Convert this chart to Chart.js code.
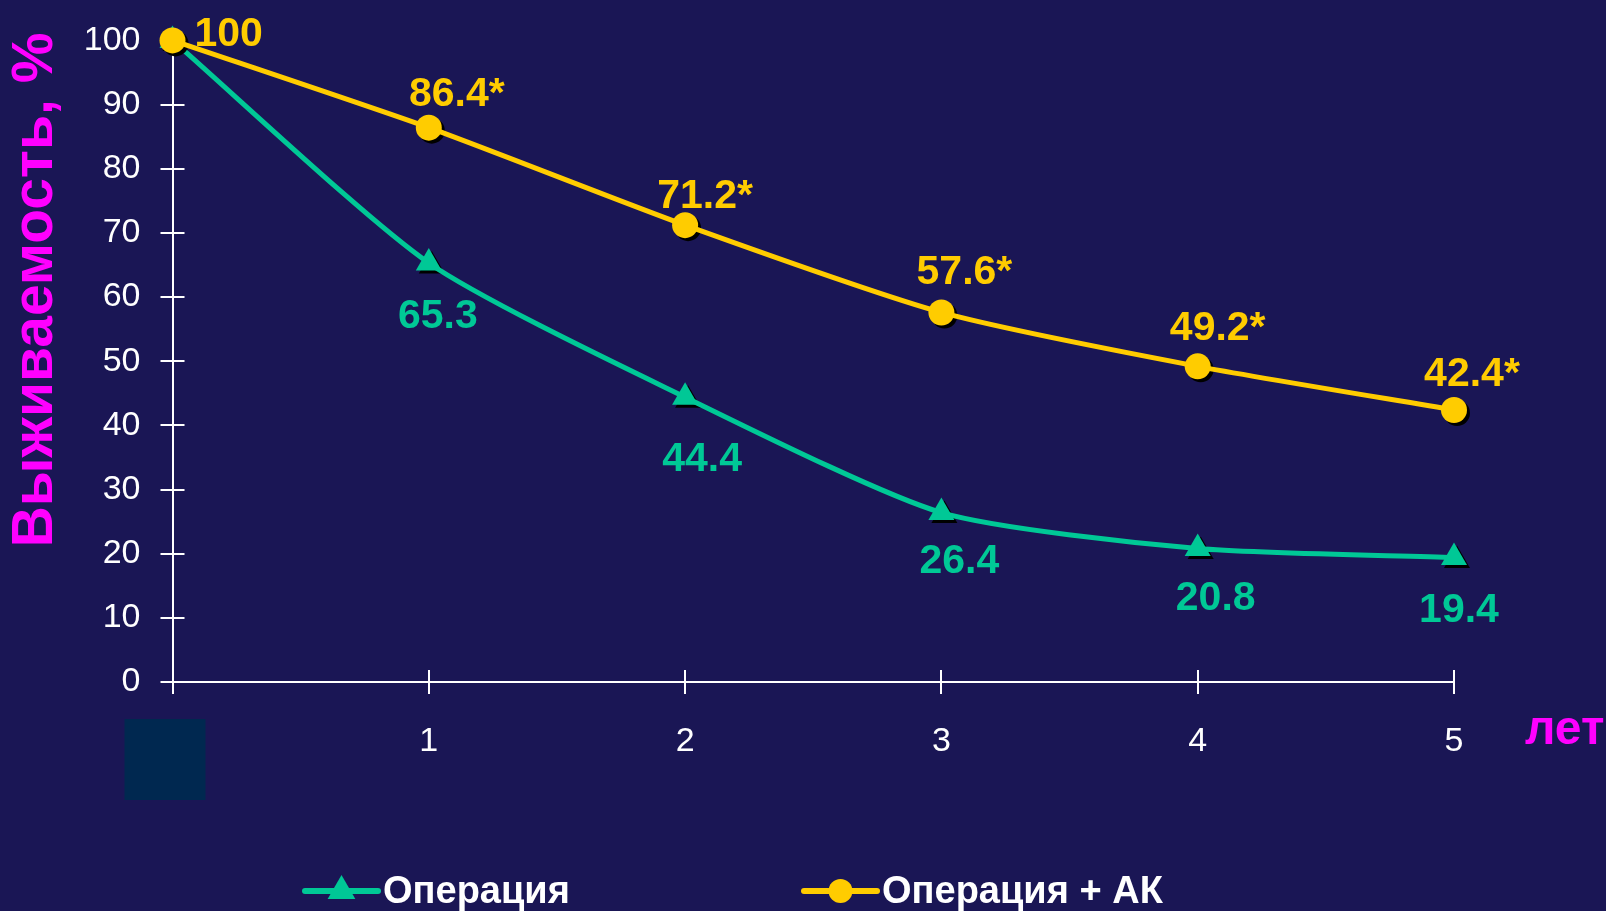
<!DOCTYPE html>
<html lang="ru">
<head>
<meta charset="utf-8">
<title>Выживаемость</title>
<script src="https://cdn.jsdelivr.net/npm/chart.js@4/dist/chart.umd.min.js"></script>
<style>
  html, body { margin: 0; padding: 0; background: #1a1655; }
  #wrap { position: relative; width: 1606px; height: 911px; }
</style>
</head>
<body>
<div id="wrap"><canvas id="chart" width="1606" height="911"></canvas></div>
<script>
// Years after surgery (first point is the start, unlabeled)
const years = ['', '1', '2', '3', '4', '5'];
// Survival, % — surgery alone
const surgeryOnly = [100, 65.3, 44.4, 26.4, 20.8, 19.4];
// Survival, % — surgery + AK
const surgeryPlusAK = [100, 86.4, 71.2, 57.6, 49.2, 42.4];
// Significance marks for the surgery + AK series
const significance = ['', '*', '*', '*', '*', '*'];
// Y axis range
const yMin = 0, yMax = 100, yStep = 10;
// Series names and axis captions
const seriesNames = ['Операция', 'Операция + АК'];
const yCaption = 'Выживаемость, %';
const xUnit = 'лет';

const BG = '#1a1655';
const GREEN = '#00c896';
const YELLOW = '#ffcc00';
const MAGENTA = '#ff00ff';
const WHITE = '#ffffff';
const FONT = "'Liberation Sans', Arial, sans-serif";

const opLabels = surgeryOnly.map((v, i) => i === 0 ? '' : v.toFixed(1));
const akLabels = surgeryPlusAK.map((v, i) => i === 0 ? String(v) : v.toFixed(1) + significance[i]);

// Label placement relative to each marker (dx, dy to the centre of the digits)
const opLabelShift = [null, [9, 50], [17, 59], [18, 46], [18, 47], [5, 50]];
const akLabelShift = [[22, -9], [28, -36], [20, -32], [23, -43], [20, -41], [18, -39]];

// Black drop shadow under the markers
const markerShadow = {
  id: 'markerShadow',
  beforeDatasetDraw(chart, args) {
    const ctx = chart.ctx;
    ctx.save();
    ctx.translate(3, 3);
    ctx.filter = 'brightness(0)';
    args.meta.data.forEach(p => p.draw(ctx));
    ctx.restore();
  }
};

// Tick marks crossing the axes (inner half; outer half comes from the grid ticks)
const innerTicks = {
  id: 'innerTicks',
  beforeDatasetsDraw(chart) {
    const { ctx, chartArea, scales } = chart;
    ctx.save();
    ctx.strokeStyle = WHITE;
    ctx.lineWidth = 2;
    ctx.beginPath();
    scales.y.ticks.forEach((t, i) => {
      if (i === 0) return;
      const y = Math.round(scales.y.getPixelForTick(i));
      ctx.moveTo(chartArea.left, y);
      ctx.lineTo(chartArea.left + 12, y);
    });
    scales.x.ticks.forEach((t, i) => {
      if (i === 0) return;
      const x = Math.round(scales.x.getPixelForTick(i));
      ctx.moveTo(x, chartArea.bottom);
      ctx.lineTo(x, chartArea.bottom - 12);
    });
    ctx.stroke();
    ctx.restore();
  }
};

// Value labels next to the markers
const valueLabels = {
  id: 'valueLabels',
  afterDatasetsDraw(chart) {
    const ctx = chart.ctx;
    const size = 41;
    const capMid = size * 0.358;
    ctx.save();
    ctx.font = `bold ${size}px ${FONT}`;
    ctx.textBaseline = 'alphabetic';
    ctx.textAlign = 'left';
    const opMeta = chart.getDatasetMeta(0);
    ctx.fillStyle = GREEN;
    opMeta.data.forEach((p, i) => {
      if (!opLabels[i]) return;
      const d = opLabelShift[i];
      const w = ctx.measureText(opLabels[i]).width;
      ctx.fillText(opLabels[i], p.x + d[0] - w / 2, p.y + d[1] + capMid);
    });
    const akMeta = chart.getDatasetMeta(1);
    ctx.fillStyle = YELLOW;
    akMeta.data.forEach((p, i) => {
      const d = akLabelShift[i];
      if (i === 0) {
        ctx.fillText(akLabels[i], p.x + d[0], p.y + d[1] + capMid);
      } else {
        const w = ctx.measureText(akLabels[i]).width;
        ctx.fillText(akLabels[i], p.x + d[0] - w / 2, p.y + d[1] + capMid);
      }
    });
    ctx.restore();
  }
};

// Axis captions, corner block and legend
const decorations = {
  id: 'decorations',
  afterDraw(chart) {
    const { ctx, chartArea } = chart;
    ctx.save();
    // dark block under the origin
    ctx.fillStyle = '#002850';
    ctx.fillRect(chartArea.left - 48, chartArea.bottom + 37, 81, 81);
    // vertical caption of the y axis
    ctx.save();
    ctx.translate(36, 290);
    ctx.rotate(-Math.PI / 2);
    ctx.fillStyle = MAGENTA;
    ctx.font = `bold 57px ${FONT}`;
    ctx.textAlign = 'center';
    ctx.textBaseline = 'middle';
    ctx.fillText(yCaption, 0, 0);
    ctx.restore();
    // unit of the x axis
    ctx.fillStyle = MAGENTA;
    ctx.font = `bold 48px ${FONT}`;
    ctx.textAlign = 'left';
    ctx.textBaseline = 'middle';
    ctx.fillText(xUnit, chartArea.right + 71, chartArea.bottom + 49);
    // legend
    const legendY = 891;
    const items = [
      { x: 305, color: GREEN, style: 'triangle', radius: 16, text: chart.data.datasets[0].label },
      { x: 804, color: YELLOW, style: 'circle', radius: 12, text: chart.data.datasets[1].label }
    ];
    items.forEach(it => {
      ctx.strokeStyle = it.color;
      ctx.lineWidth = 6;
      ctx.lineCap = 'round';
      ctx.beginPath();
      ctx.moveTo(it.x, legendY);
      ctx.lineTo(it.x + 73, legendY);
      ctx.stroke();
      ctx.fillStyle = it.color;
      const cx = it.x + 36.5;
      ctx.beginPath();
      if (it.style === 'circle') {
        ctx.arc(cx, legendY, it.radius, 0, Math.PI * 2);
      } else {
        const r = it.radius;
        ctx.moveTo(cx, legendY - r);
        ctx.lineTo(cx + r * 0.866, legendY + r / 2);
        ctx.lineTo(cx - r * 0.866, legendY + r / 2);
        ctx.closePath();
      }
      ctx.fill();
      ctx.fillStyle = WHITE;
      ctx.font = `bold 38px ${FONT}`;
      ctx.textAlign = 'left';
      ctx.textBaseline = 'middle';
      ctx.fillText(it.text, it.x + 78, legendY + 2);
    });
    ctx.restore();
  }
};

const bgPlugin = {
  id: 'bg',
  beforeDraw(chart) {
    const ctx = chart.ctx;
    ctx.save();
    ctx.fillStyle = BG;
    ctx.fillRect(0, 0, chart.width, chart.height);
    ctx.restore();
  }
};

new Chart(document.getElementById('chart'), {
  type: 'line',
  data: {
    labels: years,
    datasets: [
      {
        label: seriesNames[0],
        data: surgeryOnly,
        order: 2,
        borderColor: GREEN,
        backgroundColor: GREEN,
        borderWidth: 5,
        pointStyle: 'triangle',
        pointRadius: 15,
        pointBorderWidth: 0,
        pointBackgroundColor: GREEN,
        tension: 0.22,
        clip: false
      },
      {
        label: seriesNames[1],
        data: surgeryPlusAK,
        order: 1,
        borderColor: YELLOW,
        backgroundColor: YELLOW,
        borderWidth: 5,
        pointStyle: 'circle',
        pointRadius: 13,
        pointBorderWidth: 0,
        pointBackgroundColor: YELLOW,
        tension: 0.22,
        clip: false
      }
    ]
  },
  options: {
    responsive: false,
    animation: false,
    events: [],
    layout: { padding: { left: 0, right: 152, top: 38, bottom: 0 } },
    plugins: {
      legend: { display: false },
      tooltip: { enabled: false }
    },
    scales: {
      x: {
        type: 'category',
        offset: false,
        afterFit(scale) { scale.height = 911 - 682; },
        border: { display: true, color: WHITE, width: 2 },
        grid: { display: true, drawOnChartArea: false, color: WHITE, lineWidth: 2, tickLength: 12, tickWidth: 2, tickColor: WHITE, offset: false },
        ticks: { color: WHITE, font: { family: FONT, size: 34 }, padding: 27, maxRotation: 0, autoSkip: false }
      },
      y: {
        min: yMin,
        max: yMax,
        afterFit(scale) { scale.width = 172.5; },
        border: { display: true, color: WHITE, width: 2 },
        grid: { display: true, drawOnChartArea: false, color: WHITE, lineWidth: 2, tickLength: 12, tickColor: WHITE },
        ticks: { stepSize: yStep, color: WHITE, font: { family: FONT, size: 34 }, padding: 20 },
        title: { display: false }
      }
    }
  },
  plugins: [bgPlugin, markerShadow, innerTicks, valueLabels, decorations]
});
</script>
</body>
</html>
